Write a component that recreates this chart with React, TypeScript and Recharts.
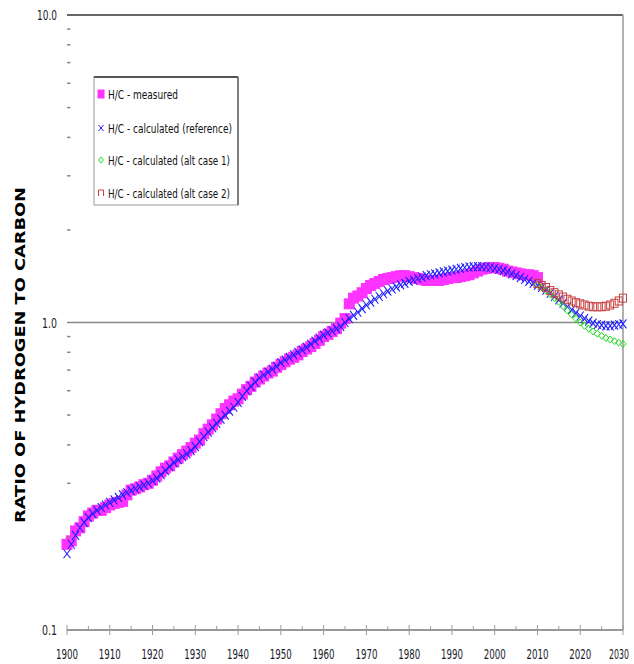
import React from 'react';
import { ComposedChart, Scatter, XAxis, YAxis, ReferenceLine } from 'recharts';

// Annual H/C ratio, measured, 1900-2010
const measuredYears: number[] = Array.from({ length: 111 }, (_, i) => 1900 + i);
const measuredValues: number[] = [
  0.19, 0.195, 0.21, 0.215, 0.225, 0.235, 0.24, 0.245, 0.245, 0.25,
  0.255, 0.258, 0.26, 0.262, 0.275, 0.285, 0.288, 0.292, 0.297, 0.3,
  0.307, 0.317, 0.327, 0.336, 0.342, 0.352, 0.362, 0.372, 0.382, 0.392,
  0.405, 0.415, 0.435, 0.45, 0.465, 0.485, 0.505, 0.525, 0.54, 0.555,
  0.565, 0.585, 0.605, 0.62, 0.64, 0.655, 0.67, 0.685, 0.695, 0.715,
  0.73, 0.745, 0.76, 0.77, 0.785, 0.805, 0.82, 0.835, 0.855, 0.875,
  0.9, 0.915, 0.935, 0.955, 0.995, 1.03, 1.15, 1.2, 1.22, 1.25,
  1.29, 1.32, 1.34, 1.36, 1.38, 1.39, 1.4, 1.41, 1.42, 1.42,
  1.41, 1.4, 1.39, 1.38, 1.37, 1.37, 1.37, 1.37, 1.38, 1.39,
  1.4, 1.4, 1.41, 1.42, 1.43, 1.45, 1.47, 1.49, 1.5, 1.51,
  1.51, 1.5, 1.49, 1.47, 1.46, 1.45, 1.44, 1.43, 1.43, 1.42,
  1.4,
];

// Annual H/C ratio, calculated (reference), 1900-2030
const referenceYears: number[] = Array.from({ length: 131 }, (_, i) => 1900 + i);
const referenceValues: number[] = [
  0.177, 0.19, 0.203, 0.215, 0.224, 0.232, 0.239, 0.245, 0.25, 0.255,
  0.26, 0.265, 0.27, 0.275, 0.28, 0.284, 0.288, 0.292, 0.296, 0.3,
  0.306, 0.312, 0.32, 0.33, 0.34, 0.35, 0.358, 0.366, 0.374, 0.383,
  0.395, 0.41, 0.425, 0.44, 0.455, 0.47, 0.485, 0.5, 0.515, 0.53,
  0.55, 0.575, 0.6, 0.62, 0.64, 0.66, 0.675, 0.69, 0.705, 0.72,
  0.74, 0.755, 0.77, 0.785, 0.8, 0.815, 0.83, 0.85, 0.87, 0.89,
  0.91, 0.925, 0.94, 0.955, 0.97, 1.0, 1.03, 1.055, 1.08, 1.11,
  1.14, 1.165, 1.19, 1.215, 1.24, 1.265, 1.285, 1.305, 1.325, 1.34,
  1.36, 1.375, 1.39, 1.405, 1.42, 1.43, 1.44, 1.45, 1.46, 1.47,
  1.48, 1.49, 1.5, 1.51, 1.515, 1.52, 1.52, 1.52, 1.515, 1.51,
  1.5, 1.49, 1.475, 1.46, 1.44, 1.42, 1.4, 1.38, 1.36, 1.34,
  1.32, 1.3, 1.275, 1.245, 1.215, 1.185, 1.155, 1.125, 1.1, 1.075,
  1.05, 1.03, 1.01, 0.995, 0.985, 0.98, 0.975, 0.975, 0.98, 0.985,
  0.99,
];

// Alternative cases, 2010-2030
const altYears: number[] = Array.from({ length: 21 }, (_, i) => 2010 + i);
const alt1Values: number[] = [
  1.33, 1.3, 1.27, 1.235, 1.2, 1.165, 1.13, 1.095, 1.06, 1.03,
  1.0, 0.975, 0.955, 0.935, 0.92, 0.905, 0.89, 0.88, 0.87, 0.86,
  0.852,
];
const alt2Values: number[] = [
  1.34, 1.32, 1.3, 1.27, 1.25, 1.23, 1.21, 1.19, 1.175, 1.16,
  1.15, 1.14, 1.13, 1.125, 1.125, 1.125, 1.13, 1.14, 1.155, 1.175,
  1.2,
];

const xTicks: number[] = Array.from({ length: 27 }, (_, i) => 1900 + i * 5);
const yMajorTicks: number[] = [0.1, 1, 10];
const yMinorTicks: number[] = [0.2, 0.3, 0.4, 0.5, 0.6, 0.7, 0.8, 0.9, 2, 3, 4, 5, 6, 7, 8, 9];

const legendLabels: string[] = [
  'H/C - measured',
  'H/C - calculated (reference)',
  'H/C - calculated (alt case 1)',
  'H/C - calculated (alt case 2)',
];
const yAxisTitle = 'RATIO OF HYDROGEN TO CARBON';

const zip = (xs: number[], ys: number[]) => ys.map((v, i) => ({ year: xs[i], value: v }));
const measuredData = zip(measuredYears, measuredValues);
const referenceData = zip(referenceYears, referenceValues);
const alt1Data = zip(altYears, alt1Values);
const alt2Data = zip(altYears, alt2Values);

const MAGENTA = '#ff33ff';
const BLUE = '#1f1fff';
const GREEN = '#22dd22';
const RED = '#c84040';
const FONT = '"Liberation Sans Narrow", "DejaVu Sans Condensed", sans-serif';

const SquareFilled = (p: any) => (
  <rect x={p.cx - 5.5} y={p.cy - 5.5} width={11} height={11} fill={MAGENTA} />
);
const Cross = (p: any) => (
  <path
    d={`M${p.cx - 3.5},${p.cy - 4.5}L${p.cx + 3.5},${p.cy + 4.5}M${p.cx + 3.5},${p.cy - 4.5}L${p.cx - 3.5},${p.cy + 4.5}`}
    stroke={BLUE}
    strokeWidth={1.1}
    fill="none"
  />
);
const Diamond = (p: any) => (
  <path
    d={`M${p.cx},${p.cy - 3.5}L${p.cx + 3},${p.cy}L${p.cx},${p.cy + 3.5}L${p.cx - 3},${p.cy}Z`}
    stroke={GREEN}
    strokeWidth={1}
    fill="none"
  />
);
const OpenSquare = (p: any) => (
  <rect x={p.cx - 3.5} y={p.cy - 4} width={7} height={8} stroke={RED} strokeWidth={1} fill="none" />
);

const XTick = (props: any) => {
  const { x, y, payload } = props;
  const v = payload.value as number;
  const major = v % 10 === 0;
  const last = v === 2030;
  return (
    <g>
      <line x1={x} x2={x} y1={major ? y - 5 : y - 4} y2={major ? y + 5 : y} stroke="#999" strokeWidth={1} />
      {major && (
        <text
          x={last ? x - 4 : x}
          y={y + 29}
          textAnchor="middle"
          fontFamily={FONT}
          fontSize={14}
          fill="#1a1a2a"
          textLength={last ? 20 : 22}
          lengthAdjust="spacingAndGlyphs"
        >
          {String(v)}
        </text>
      )}
    </g>
  );
};

const YTick = (props: any) => {
  const { x, y, payload } = props;
  const v = payload.value as number;
  const major = yMajorTicks.includes(v);
  if (!major) {
    return <line x1={x} x2={x + 3.5} y1={y} y2={y} stroke="#888" strokeWidth={1.5} />;
  }
  const label = v.toFixed(1);
  return (
    <text
      x={x - 10}
      y={y + 5}
      textAnchor="end"
      fontFamily={FONT}
      fontSize={14}
      fill="#1a1a2a"
      textLength={label.length === 4 ? 20 : 15}
      lengthAdjust="spacingAndGlyphs"
    >
      {label}
    </text>
  );
};

const legendMarkers = [
  <rect key="m" x={-3.5} y={-4.5} width={7} height={9} fill={MAGENTA} />,
  <path key="r" d="M-2.5,-3L2.5,3M2.5,-3L-2.5,3" stroke={BLUE} strokeWidth={1} fill="none" />,
  <path key="a1" d="M0,-3L2.5,0L0,3L-2.5,0Z" stroke={GREEN} strokeWidth={1} fill="none" />,
  <path key="a2" d="M-2.5,3L-2.5,-3L2.5,-3L2.5,3" stroke={RED} strokeWidth={1} fill="none" />,
];
const legendWidths: number[] = [70, 124, 122, 122];
const legendRowY: number[] = [18, 52, 84, 117];

const LegendBox = () => (
  <svg
    width={146}
    height={130}
    style={{ position: 'absolute', left: 93, top: 76, overflow: 'visible' }}
  >
    <rect x={1} y={1} width={144} height={128} fill="#fff" stroke="#999" strokeWidth={1} />
    <line x1={1} x2={145} y1={1} y2={1} stroke="#555" strokeWidth={2} />
    <line x1={145} x2={145} y1={1} y2={129} stroke="#666" strokeWidth={1.5} />
    {legendLabels.map((label, i) => (
      <g key={label}>
        <g transform={`translate(8,${legendRowY[i]})`}>{legendMarkers[i]}</g>
        <text
          x={15}
          y={legendRowY[i] + 4.5}
          fontFamily={FONT}
          fontSize={13}
          fill="#111"
          textLength={legendWidths[i]}
          lengthAdjust="spacingAndGlyphs"
        >
          {label}
        </text>
      </g>
    ))}
  </svg>
);

export default function App() {
  return (
    <div style={{ position: 'relative', width: 634, height: 664 }}>
      <style>{'body { margin: 0; }'}</style>
      <ComposedChart width={634} height={664} margin={{ top: 15, right: 11, left: 0, bottom: 0 }}>
        <XAxis
          dataKey="year"
          type="number"
          domain={[1900, 2030]}
          ticks={xTicks}
          interval={0}
          tickSize={0}
          tickMargin={0}
          height={34}
          axisLine={{ stroke: '#999', strokeWidth: 2 }}
          tickLine={false}
          tick={<XTick />}
          allowDuplicatedCategory={false}
        />
        <YAxis
          dataKey="value"
          type="number"
          scale="log"
          domain={[0.1, 10]}
          ticks={[...yMajorTicks, ...yMinorTicks]}
          interval={0}
          width={67}
          tickSize={0}
          tickMargin={0}
          axisLine={false}
          tickLine={false}
          tick={<YTick />}
          allowDataOverflow
        />
        <ReferenceLine y={10} stroke="#666" strokeWidth={2} />
        <ReferenceLine y={1} stroke="#888" strokeWidth={1.5} />
        <ReferenceLine x={2030} stroke="#999" strokeWidth={1.5} />
        <Scatter data={measuredData} dataKey="value" shape={SquareFilled} isAnimationActive={false} />
        <Scatter data={referenceData} dataKey="value" shape={Cross} isAnimationActive={false} />
        <Scatter data={alt1Data} dataKey="value" shape={Diamond} isAnimationActive={false} />
        <Scatter data={alt2Data} dataKey="value" shape={OpenSquare} isAnimationActive={false} />
        <text
          transform="translate(25,355) rotate(-90)"
          textAnchor="middle"
          fontFamily='"DejaVu Sans", sans-serif'
          fontWeight="bold"
          fontSize={14}
          fill="#000"
          textLength={336}
          lengthAdjust="spacingAndGlyphs"
        >
          {yAxisTitle}
        </text>
      </ComposedChart>
      <LegendBox />
    </div>
  );
}
